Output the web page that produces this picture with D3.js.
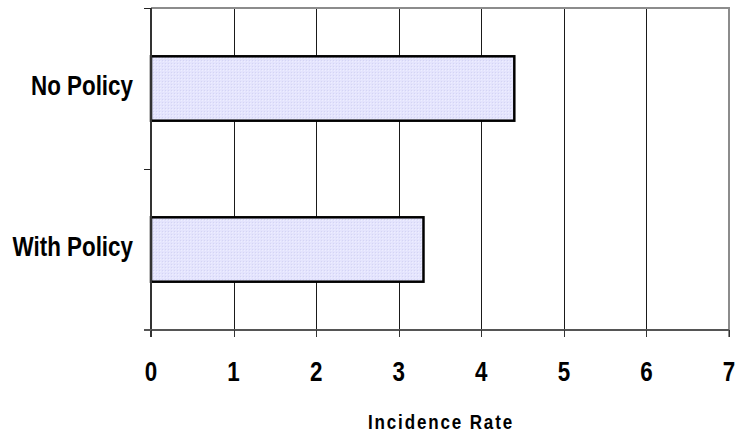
<!DOCTYPE html>
<html>
<head>
<meta charset="utf-8">
<script src="https://cdn.jsdelivr.net/npm/d3@7"></script>
<style>
  html, body { margin: 0; padding: 0; background: #fff; }
  svg { display: block; }
  text { font-family: "Liberation Sans", Arial, sans-serif; font-weight: bold; fill: #000; }
</style>
</head>
<body>
<svg id="chart" width="736" height="437"></svg>
<script>
const categories = ["No Policy", "With Policy"];
const values = [4.4, 3.3];
const xTicks = [0, 1, 2, 3, 4, 5, 6, 7];
const xTitle = "Incidence Rate";

(function () {
const svg = d3.select("#chart");
const mLeft = 151, mRight = 729, mTop = 8, mBottom = 330;

const defs = svg.append("defs");
const pat = defs.append("pattern").attr("id", "hatch").attr("patternUnits", "userSpaceOnUse")
  .attr("width", 3).attr("height", 3);
pat.append("rect").attr("width", 3).attr("height", 3).attr("fill", "#e4e4fd");
pat.append("rect").attr("x", 0).attr("y", 0).attr("width", 1).attr("height", 1).attr("fill", "#d4d4f4");
pat.append("rect").attr("x", 1).attr("y", 1).attr("width", 1).attr("height", 1).attr("fill", "#eeeeff");

const x = d3.scaleLinear().domain([0, 7]).range([mLeft, mRight]);
const y = d3.scaleBand().domain(categories).range([mTop, mBottom]).paddingInner(0.6).paddingOuter(0.3);
const px = v => Math.round(x(v)) + 0.5;

// gridlines
svg.append("g").selectAll("line").data(xTicks.filter(t => t > 0 && t < 7)).join("line")
  .attr("x1", d => px(d)).attr("x2", d => px(d))
  .attr("y1", mTop).attr("y2", mBottom)
  .attr("stroke", "#1a1a1a").attr("stroke-width", 1);

// top and right border (gray)
svg.append("line").attr("x1", mLeft).attr("x2", mRight + 1).attr("y1", mTop).attr("y2", mTop)
  .attr("stroke", "#8c8c8c").attr("stroke-width", 2);
svg.append("line").attr("x1", mRight).attr("x2", mRight).attr("y1", mTop).attr("y2", mBottom + 7)
  .attr("stroke", "#8c8c8c").attr("stroke-width", 2);

// bars
svg.append("g").selectAll("rect").data(categories).join("rect")
  .attr("x", x(0))
  .attr("y", d => y(d))
  .attr("width", (d, i) => x(values[i]) - x(0))
  .attr("height", y.bandwidth())
  .attr("fill", "url(#hatch)")
  .attr("stroke", "#000").attr("stroke-width", 2.5);

// left axis
const yEdges = [mTop, mTop + y.step(), mBottom];
svg.append("line").attr("x1", mLeft).attr("x2", mLeft).attr("y1", mTop).attr("y2", mBottom + 7)
  .attr("stroke", "#333").attr("stroke-width", 2);
svg.append("g").selectAll("line").data(yEdges).join("line")
  .attr("x1", mLeft - 7).attr("x2", mLeft).attr("y1", d => Math.round(d) + 0.5).attr("y2", d => Math.round(d) + 0.5)
  .attr("stroke", "#222").attr("stroke-width", 1);

// bottom axis
svg.append("line").attr("x1", mLeft - 7).attr("x2", mRight).attr("y1", mBottom).attr("y2", mBottom)
  .attr("stroke", "#555").attr("stroke-width", 2);
svg.append("g").selectAll("line").data(xTicks).join("line")
  .attr("x1", d => px(d)).attr("x2", d => px(d)).attr("y1", mBottom).attr("y2", mBottom + 7)
  .attr("stroke", "#333").attr("stroke-width", 1);

// tick labels
svg.append("g").selectAll("text").data(xTicks).join("text")
  .attr("transform", d => `translate(${x(d)},381) scale(0.8,1)`)
  .attr("text-anchor", "middle").attr("font-size", 28)
  .text(d => d);

// category labels
svg.append("g").selectAll("text").data(categories).join("text")
  .attr("transform", d => `translate(133,${y(d) + y.bandwidth() / 2 + 6}) scale(0.8,1)`)
  .attr("text-anchor", "end").attr("font-size", 28)
  .text(d => d);

// axis title
svg.append("text")
  .attr("transform", `translate(${(mLeft + mRight) / 2 + 1},429) scale(0.85,1)`)
  .attr("text-anchor", "middle").attr("font-size", 20).attr("letter-spacing", 2.2)
  .text(xTitle);
})();
</script>
</body>
</html>
